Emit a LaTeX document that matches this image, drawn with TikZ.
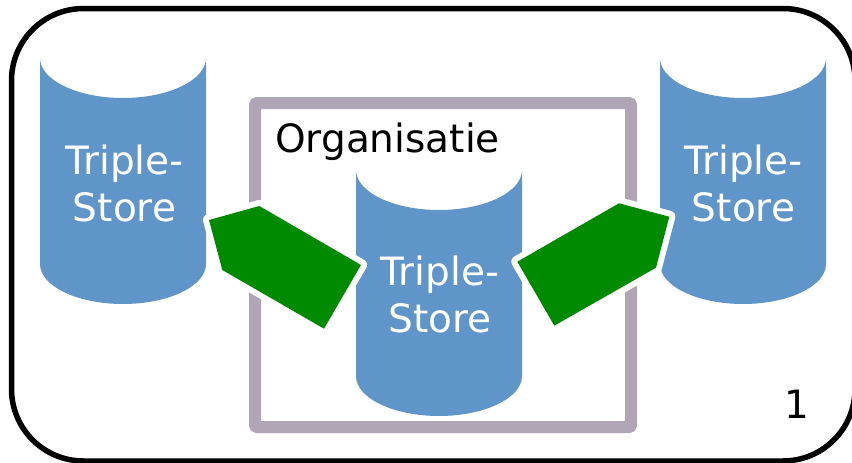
\documentclass[tikz,border=0pt]{standalone}
\usepackage{fontspec}
\setmainfont{DejaVu Sans}
\definecolor{cylblue}{HTML}{5F95C9}
\definecolor{framegray}{HTML}{AFA5B4}
\definecolor{arrowgreen}{HTML}{008A00}
\tikzset{
  cylbody/.pic={\fill[cylblue] (0,0) .. controls (0,22) and (37.2,40) .. (83,40)
     .. controls (128.8,40) and (166,22) .. (166,0) -- (166,206)
     .. controls (166,228) and (128.8,246) .. (83,246)
     .. controls (37.2,246) and (0,228) .. (0,206) -- cycle;},
  cyltext/.style={text=white,font=\fontsize{39}{47}\selectfont,align=center,inner sep=0pt},
  blacktext/.style={text=black,font=\fontsize{39}{47}\selectfont,inner sep=0pt},
  halo/.style={draw=white,line width=12pt,line join=round},
  greenshape/.style={fill=arrowgreen},
}
\begin{document}
\begin{tikzpicture}[x=1pt,y=-1pt]
\useasboundingbox (0,0) rectangle (852,463);
\fill[white] (0,0) rectangle (852,463);
\draw[black,line width=5.5pt,rounded corners=72pt] (11.5,8.5) rectangle (855,461);
\draw[framegray,line width=12pt,line join=round,rounded corners=1pt] (255,103) rectangle (631,427);
\pic at (40,58) {cylbody};
\pic at (356,170) {cylbody};
\pic at (660,58) {cylbody};
\draw[halo] (209,220) -- (259.3,206) -- (361,265) -- (324,328.7) -- (222.3,270) -- cycle;
\fill[greenshape] (209,220) -- (259.3,206) -- (361,265) -- (324,328.7) -- (222.3,270) -- cycle;
\draw[halo] (517.3,261.7) -- (619,203.3) -- (669.3,216.7) -- (656,267.7) -- (554.3,325.7) -- cycle;
\fill[greenshape] (517.3,261.7) -- (619,203.3) -- (669.3,216.7) -- (656,267.7) -- (554.3,325.7) -- cycle;
\node[cyltext] (left) at (124.5,183) {Triple-\\Store};
\node[cyltext] (mid) at (440,294) {Triple-\\Store};
\node[cyltext] (right) at (743.5,183) {Triple-\\Store};
\node[blacktext,anchor=base west] (org) at (275,152) {Organisatie};
\node[blacktext,anchor=base] (num) at (797,418) {1};
\end{tikzpicture}
\end{document}
